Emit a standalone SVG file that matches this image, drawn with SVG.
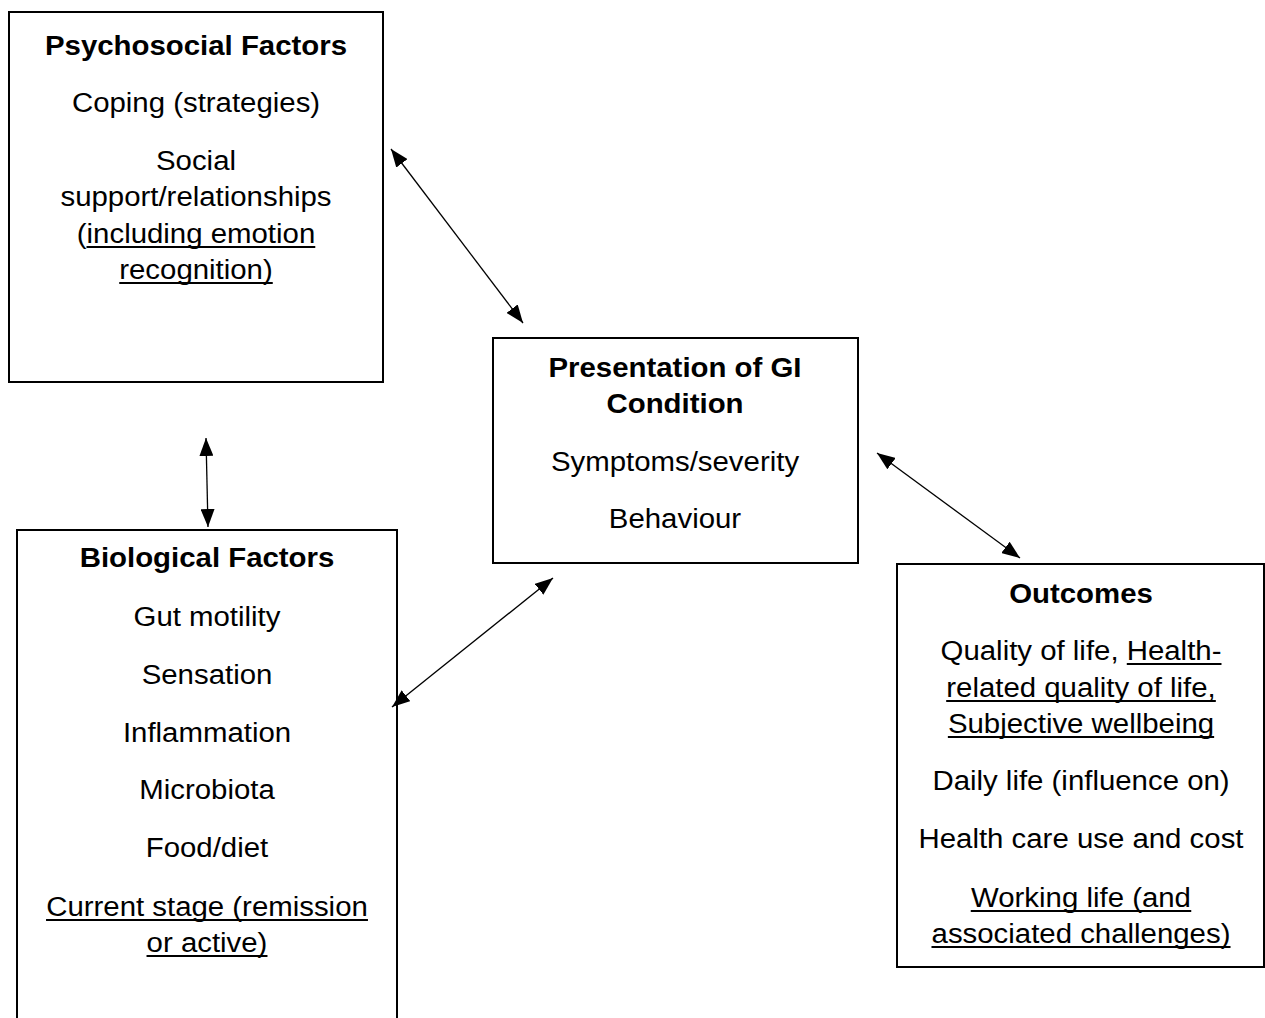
<svg xmlns="http://www.w3.org/2000/svg" width="1265" height="1018" viewBox="0 0 1265 1018">
  <style>
    .box { fill: #fff; stroke: #000; stroke-width: 2; }
    .t { font-family: "Liberation Sans", Arial, sans-serif; font-size: 28px; fill: #000; text-anchor: middle; }
    .h { font-weight: bold; }
    .ul { stroke: #000; stroke-width: 2; }
    .conn line { stroke: #000; stroke-width: 1.3; marker-start: url(#ah); marker-end: url(#ah); }
  </style>
  <defs>
    <marker id="ah" markerUnits="userSpaceOnUse" markerWidth="19" markerHeight="14" refX="18" refY="7" orient="auto-start-reverse">
      <path d="M0,0 L18,7 L0,14 z" fill="#000"/>
    </marker>
  </defs>
  <rect width="1265" height="1018" fill="#fff"/>

  <!-- text blocks are centred on their box and widened slightly -->
  <g id="psychosocial">
    <rect class="box" x="9" y="12" width="374" height="370"/>
    <g transform="translate(196,0) scale(1.05,1)">
      <text class="t h" x="0" y="55">Psychosocial Factors</text>
      <text class="t" x="0" y="112">Coping (strategies)</text>
      <text class="t" x="0" y="170">Social</text>
      <text class="t" x="0" y="206">support/relationships</text>
      <text class="t" x="0" y="243">(including emotion</text>
      <text class="t" x="0" y="279">recognition)</text>
      <line class="ul" x1="-104.3" y1="247" x2="113.6" y2="247"/>
      <line class="ul" x1="-73.1" y1="283" x2="73.1" y2="283"/>
    </g>
  </g>

  <g id="presentation">
    <rect class="box" x="493" y="338" width="365" height="225"/>
    <g transform="translate(675,0) scale(1.05,1)">
      <text class="t h" x="0" y="377">Presentation of GI</text>
      <text class="t h" x="0" y="413">Condition</text>
      <text class="t" x="0" y="471">Symptoms/severity</text>
      <text class="t" x="0" y="528">Behaviour</text>
    </g>
  </g>

  <g id="biological">
    <rect class="box" x="17" y="530" width="380" height="520"/>
    <g transform="translate(207,0) scale(1.05,1)">
      <text class="t h" x="0" y="567">Biological Factors</text>
      <text class="t" x="0" y="626">Gut motility</text>
      <text class="t" x="0" y="684">Sensation</text>
      <text class="t" x="0" y="742">Inflammation</text>
      <text class="t" x="0" y="799">Microbiota</text>
      <text class="t" x="0" y="857">Food/diet</text>
      <text class="t" x="0" y="916">Current stage (remission</text>
      <text class="t" x="0" y="952">or active)</text>
      <line class="ul" x1="-153.3" y1="920" x2="153.3" y2="920"/>
      <line class="ul" x1="-57.6" y1="956" x2="57.6" y2="956"/>
    </g>
  </g>

  <g id="outcomes">
    <rect class="box" x="897" y="564" width="367" height="403"/>
    <g transform="translate(1081,0) scale(1.05,1)">
      <text class="t h" x="0" y="603">Outcomes</text>
      <text class="t" x="0" y="660">Quality of life, Health-</text>
      <text class="t" x="0" y="697">related quality of life,</text>
      <text class="t" x="0" y="733">Subjective wellbeing</text>
      <text class="t" x="0" y="790">Daily life (influence on)</text>
      <text class="t" x="0" y="848">Health care use and cost</text>
      <text class="t" x="0" y="907">Working life (and</text>
      <text class="t" x="0" y="943">associated challenges)</text>
      <line class="ul" x1="43.6" y1="664" x2="133.8" y2="664"/>
      <line class="ul" x1="-128.4" y1="701" x2="128.4" y2="701"/>
      <line class="ul" x1="-126.8" y1="737" x2="126.8" y2="737"/>
      <line class="ul" x1="-105" y1="911" x2="105" y2="911"/>
      <line class="ul" x1="-142.4" y1="947" x2="142.4" y2="947"/>
    </g>
  </g>

  <g id="connectors" class="conn">
    <line x1="391" y1="149" x2="523" y2="323"/>
    <line x1="206" y1="438" x2="208" y2="527"/>
    <line x1="392" y1="707" x2="553" y2="578"/>
    <line x1="877" y1="453" x2="1020" y2="558"/>
  </g>
</svg>
